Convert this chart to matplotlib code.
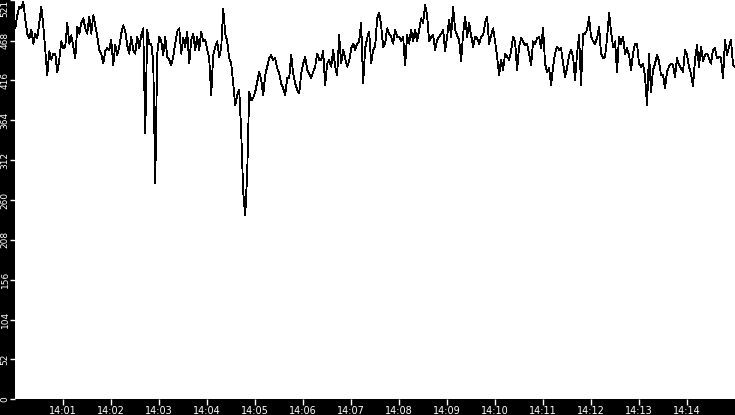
import matplotlib
matplotlib.use("Agg")
import matplotlib.pyplot as plt
import matplotlib.dates as mdates
import pandas as pd

# samples every 2.5 s starting 14:00:00
start = "2024-01-01 14:00:00"
step = "2500ms"

# 14:00:00 - 14:05:17
values_a = [
    484, 501, 512, 510, 519, 495, 477, 471, 482, 464,
    477, 471, 491, 512, 488, 456, 423, 454, 443, 451,
    451, 427, 443, 467, 458, 460, 491, 464, 475, 460,
    445, 486, 477, 491, 497, 484, 477, 499, 477, 501,
    488, 473, 456,
    451, 438, 454, 458, 456, 469, 436, 462, 449, 460,
    477, 488, 480, 462, 451, 473, 456, 451, 473, 458,
    475, 484, 347, 482, 464, 464, 441, 282, 451, 473,
    467, 449, 473, 447, 443, 436, 447, 464, 480, 484,
    451, 471,
    460, 480, 438, 469, 477, 456, 473, 456, 480, 467,
    469, 456, 445, 397, 449, 460, 467, 447, 458, 510,
    477, 467, 445, 438, 412, 384, 397, 404, 349, 271,
    240, 295, 401, 390, 393, 401, 414, 427, 417, 397,
    423, 434, 445,
]

# 14:05:20 - 14:10:35
values_b = [
    449, 443, 445, 432, 425, 412, 406, 397, 419, 419,
    449, 425, 412, 404, 399, 425, 438, 447, 430, 425,
    419, 427, 434, 451, 443, 443, 454, 410, 438, 443,
    434, 456, 434, 423, 475, 438, 456, 445, 434, 441,
    458, 464,
    456, 464, 467, 491, 412, 458, 471, 480, 438, 456,
    460, 497, 504, 488, 460, 464, 484, 477, 473, 464,
    482, 473, 473, 467, 473, 436, 475, 464, 482, 467,
    482, 467, 482, 497, 491, 514, 501, 467, 473, 475,
    456, 469,
    473, 477, 482, 454, 473, 495, 473, 512, 482, 475,
    469, 441, 477, 499, 473, 491, 475, 460, 473, 471,
    464, 473, 475, 491, 499, 464, 475, 484, 467, 447,
    423, 443, 430, 451, 447, 443, 454, 473, 467, 430,
    460, 471, 467,
]

# 14:10:38 - 14:15:00
values_c = [
    462, 464, 451, 436, 467, 464, 471, 473, 458, 484,
    438, 427, 432, 410, 434, 451, 460, 456, 458, 438,
    421, 432, 449, 456, 447, 417, 451, 475, 410, 477,
    477, 482, 499, 473, 467, 464, 471, 486, 451, 445,
    447, 471,
    504, 480, 460, 467, 427, 473, 464, 473, 451, 458,
    449, 430, 451, 464, 464, 438, 434, 438, 421, 384,
    451, 401, 430, 438, 449, 441, 423, 423, 406, 427,
    434, 438, 436, 421, 445, 436, 432, 427, 456, 449,
    434, 425, 408, 443, 462, 434, 460, 441, 449, 451,
    445, 438, 456, 458, 445, 447, 445, 419, 469, 449,
    460, 469, 436, 434,
]

y_ticks = [0, 52, 104, 156, 208, 260, 312, 364, 416, 468, 521]
x_tick_minutes = list(range(1, 15))

values = values_a + values_b + values_c
times = pd.date_range(start, periods=len(values), freq=step)

fig = plt.figure(figsize=(7.35, 4.15), dpi=100, facecolor="black")
ax = fig.add_axes([0.0208, 0.0378, 0.9792, 0.9622])
ax.set_facecolor("white")

ax.plot(times, values, color="black", lw=0.6, antialiased=False)

ax.set_xlim(times[0], times[-1])
ax.set_ylim(0, 521)

ax.xaxis.set_major_locator(mdates.MinuteLocator(byminute=x_tick_minutes))
ax.xaxis.set_major_formatter(mdates.DateFormatter("%H:%M"))

ax.set_yticks(y_ticks)
ax.set_yticklabels([str(v) for v in y_ticks], rotation=90, va="center")
ax.get_yticklabels()[-1].set_va("top")

for s in ax.spines.values():
    s.set_visible(False)

ax.tick_params(axis="x", colors="white", labelcolor="white", labelsize=7,
               length=4, width=1, pad=1, direction="out")
ax.tick_params(axis="y", colors="white", labelcolor="white", labelsize=6.5,
               length=3.5, width=1, pad=0.5, direction="out")

fig.savefig("out.png", dpi=100, facecolor="black")
